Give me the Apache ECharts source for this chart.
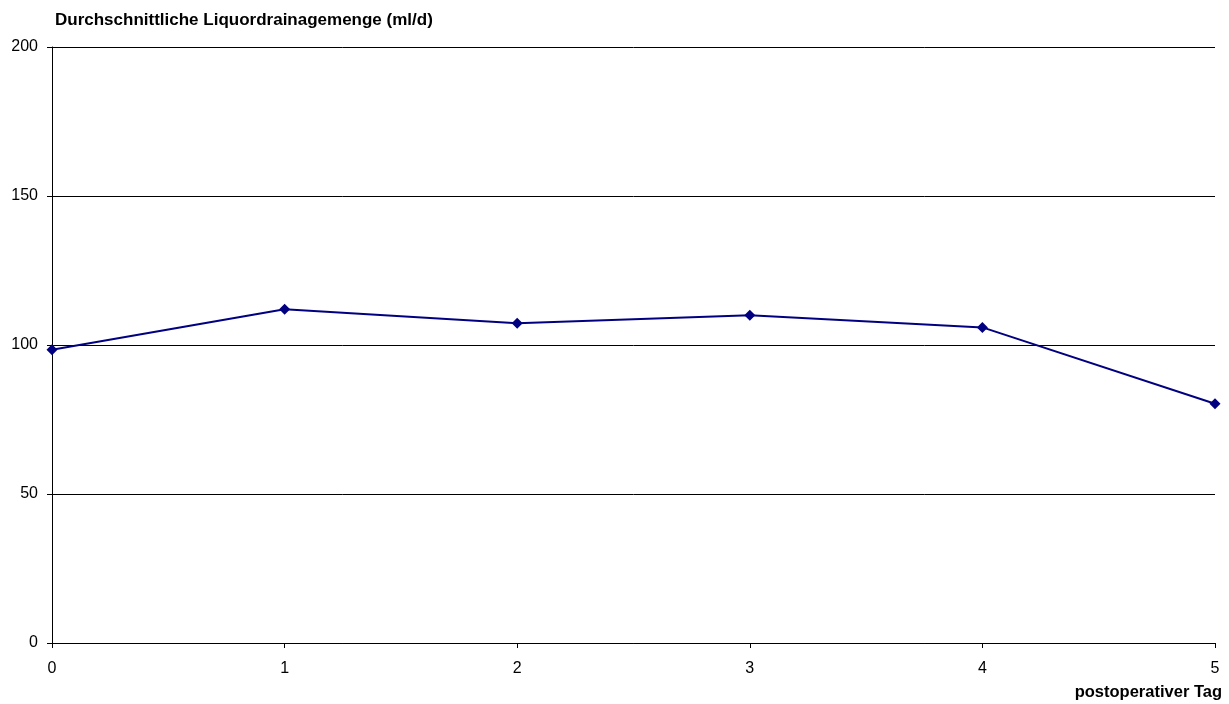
<!DOCTYPE html>
<html>
<head>
<meta charset="utf-8">
<script src="https://cdn.jsdelivr.net/npm/echarts@6/dist/echarts.min.js"></script>
<style>
  html, body { margin: 0; padding: 0; background: #fff; }
  #chart { width: 1229px; height: 704px; }
</style>
</head>
<body>
<div id="chart"></div>
<script>
// Post-operative day and average CSF drainage volume (ml/d)
const days = [0, 1, 2, 3, 4, 5];
const drainage = [98.4, 112, 107.3, 110, 105.9, 80.3];
const yTicks = [0, 50, 100, 150, 200];

const chart = echarts.init(document.getElementById('chart'), null, { renderer: 'canvas' });
const font = '"Liberation Sans", Arial, sans-serif';

chart.setOption({
  animation: false,
  backgroundColor: '#ffffff',
  title: {
    text: 'Durchschnittliche Liquordrainagemenge (ml/d)',
    left: 50, top: 7,
    textStyle: { fontFamily: font, fontSize: 17, fontWeight: 'bold', color: '#000' }
  },
  grid: { left: 52, right: 14, top: 47, bottom: 61, containLabel: false },
  xAxis: {
    type: 'value',
    min: 0, max: 5, interval: 1,
    name: 'postoperativer Tag',
    nameLocation: 'end',
    nameGap: 0,
    nameTextStyle: {
      fontFamily: font, fontSize: 16.5, fontWeight: 'bold', color: '#000',
      align: 'right', verticalAlign: 'top', padding: [41, -7, 0, 0]
    },
    axisLine: { show: true, lineStyle: { color: '#000', width: 1 } },
    axisTick: { show: true, inside: false, length: 5, lineStyle: { color: '#000' } },
    axisLabel: { fontFamily: font, fontSize: 16, color: '#000', margin: 18 },
    splitLine: { show: false }
  },
  yAxis: {
    type: 'value',
    min: 0, max: 200, interval: 50,
    axisLine: { show: true, lineStyle: { color: '#000', width: 1 } },
    axisTick: { show: true, inside: false, length: 5, lineStyle: { color: '#000' } },
    axisLabel: {
      fontFamily: font, fontSize: 16, color: '#000', margin: 14,
      formatter: v => yTicks.includes(v) ? String(v) : ''
    },
    splitLine: { show: true, lineStyle: { color: '#000', width: 1 } }
  },
  series: [{
    type: 'line',
    data: days.map((d, i) => [d, drainage[i]]),
    symbol: 'diamond',
    symbolSize: 11,
    clip: true,
    lineStyle: { color: '#000080', width: 2 },
    itemStyle: { color: '#000080' }
  }]
});
</script>
</body>
</html>
